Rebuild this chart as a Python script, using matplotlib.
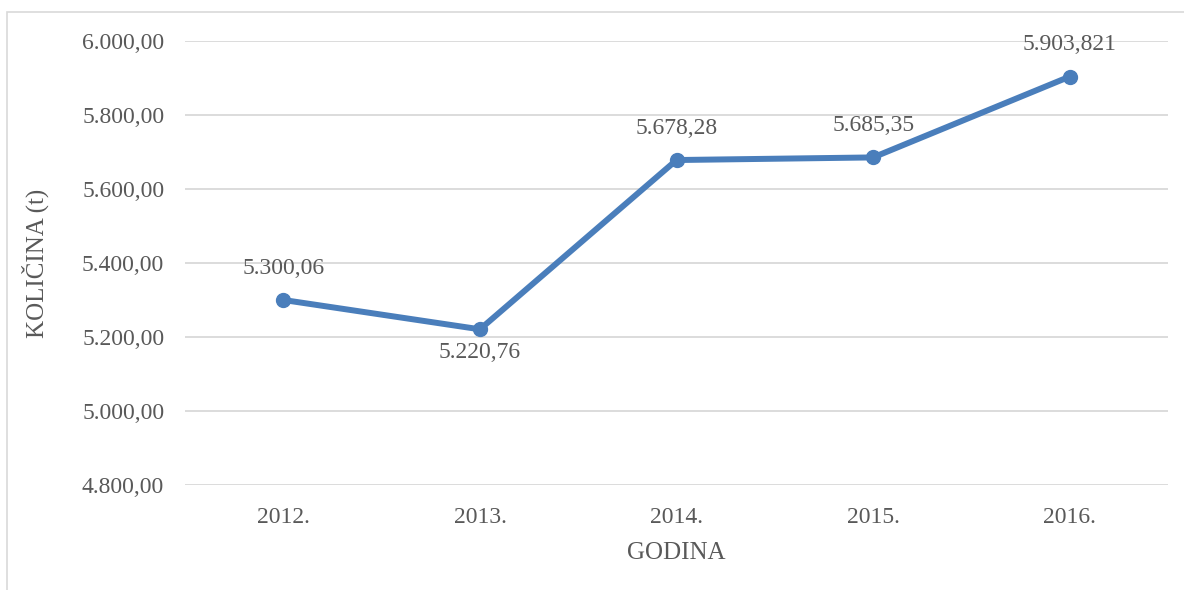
import matplotlib.pyplot as plt
from matplotlib.patches import Rectangle

years = ["2012.", "2013.", "2014.", "2015.", "2016."]
values = [5300.06, 5220.76, 5678.28, 5685.35, 5903.821]
value_labels = ["5.300,06", "5.220,76", "5.678,28", "5.685,35", "5.903,821"]
yticks = [4800, 5000, 5200, 5400, 5600, 5800, 6000]

plt.rcParams["font.family"] = ["Liberation Serif", "DejaVu Serif"]
gray = "#595959"

fig = plt.figure(figsize=(11.84, 5.9), dpi=100)
ax = fig.add_axes([0.1563, 0.178, 0.8302, 0.7525])

# chart border (only left and top visible in the reference)
fig.patches.append(Rectangle((7 / 1184, -0.1), 1.2, 1 - 12 / 590 + 0.1,
                             transform=fig.transFigure, fill=False,
                             edgecolor="#d9d9d9", linewidth=1.2))

x = list(range(len(years)))
ax.plot(x, values, color="#4a7ebb", linewidth=4.3, marker="o",
        markersize=10, solid_capstyle="round", zorder=3)

for i, (v, lab) in enumerate(zip(values, value_labels)):
    if i == 1:
        ax.annotate(lab, (i, v), xytext=(0, -17), textcoords="offset points",
                    ha="center", va="center", fontsize=17, color=gray)
    else:
        ax.annotate(lab, (i, v), xytext=(0, 23), textcoords="offset points",
                    ha="center", va="center", fontsize=17, color=gray)

ax.set_xlim(-0.5, 4.5)
ax.set_ylim(4800, 6000)
ax.set_xticks(x)
ax.set_xticklabels(years)
ax.set_yticks(yticks)
ax.set_yticklabels([f"{t:,.2f}".replace(",", " ").replace(".", ",").replace(" ", ".") for t in yticks])
ax.grid(axis="y", color="#d9d9d9", linewidth=1.3)
ax.set_axisbelow(True)
for s in ax.spines.values():
    s.set_visible(False)
ax.tick_params(axis="both", length=0, labelsize=17, labelcolor=gray)
ax.tick_params(axis="y", pad=15)
ax.tick_params(axis="x", pad=16)

ax.set_xlabel("GODINA", fontsize=18, color=gray, labelpad=10)
ax.set_ylabel("KOLIČINA (t)", fontsize=18, color=gray, labelpad=24)

fig.savefig("out.png", dpi=100)
